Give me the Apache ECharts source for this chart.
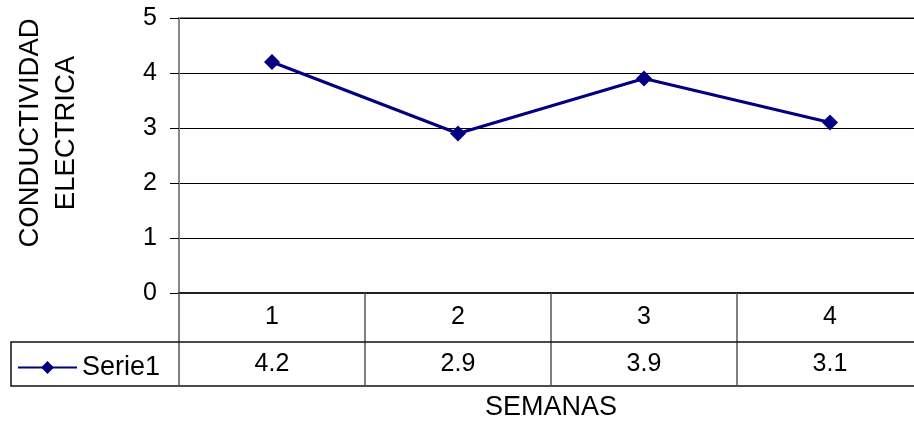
<!DOCTYPE html>
<html>
<head>
<meta charset="utf-8">
<script src="https://cdn.jsdelivr.net/npm/echarts@6/dist/echarts.min.js"></script>
<style>html,body{margin:0;padding:0;background:#fff;overflow:hidden}#c{width:930px;height:426px}</style>
</head>
<body>
<div id="c"></div>
<script>
const categories = ['1', '2', '3', '4'];
const serieName = 'Serie1';
const serieValues = [4.2, 2.9, 3.9, 3.1];
const yTicks = { min: 0, max: 5, interval: 1 };
const xTitle = 'SEMANAS';
const yTitle = 'CONDUCTIVIDAD\nELECTRICA';

const FONT = '"Liberation Sans", Arial, sans-serif';
const chart = echarts.init(document.getElementById('c'), null, { renderer: 'canvas' });
chart.setOption({
  backgroundColor: '#fff',
  animation: false,
  grid: { left: 179, top: 18, right: 7, bottom: 132, show: true, borderColor: '#888', borderWidth: 2, backgroundColor: 'transparent' },
  legend: {
    left: 12, top: 349, itemWidth: 59, itemHeight: 16, itemGap: 5,
    textStyle: { fontFamily: FONT, fontSize: 27, color: '#000' },
    data: [serieName]
  },
  xAxis: [
    {
      type: 'category', data: categories, position: 'bottom', boundaryGap: true,
      axisLine: { show: true, lineStyle: { color: '#222', width: 2 } },
      axisTick: { show: true, inside: false, length: 92, lineStyle: { color: '#555', width: 1.5 } },
      axisLabel: { margin: 12, fontFamily: FONT, fontSize: 25, color: '#000' },
      splitLine: { show: false },
      name: xTitle, nameLocation: 'middle', nameGap: 101,
      nameTextStyle: { fontFamily: FONT, fontSize: 27, color: '#000' }
    },
    {
      type: 'category', data: serieValues.map(v => v.toFixed(1)), position: 'bottom', offset: 48, boundaryGap: true,
      axisLine: { show: false }, axisTick: { show: false },
      axisLabel: { margin: 11, fontFamily: FONT, fontSize: 25, color: '#000' },
      splitLine: { show: false }
    }
  ],
  yAxis: {
    type: 'value', min: yTicks.min, max: yTicks.max, interval: yTicks.interval,
    axisLine: { show: true, lineStyle: { color: '#888', width: 2 } },
    axisTick: { show: true, inside: false, length: 9, lineStyle: { color: '#000', width: 1 } },
    axisLabel: { margin: 22, fontFamily: FONT, fontSize: 25, color: '#000' },
    splitLine: { show: true, lineStyle: { color: '#000', width: 1 } }
  },
  graphic: [
    { type: 'rect', shape: { x: 11, y: 342, width: 930, height: 44 }, style: { fill: 'none', stroke: '#111', lineWidth: 1.5 }, z: 10 },
    { type: 'text', x: 48, y: 133, rotation: Math.PI / 2,
      style: { text: yTitle, font: '27.5px ' + FONT, fill: '#000', align: 'center', verticalAlign: 'middle', lineHeight: 36 } }
  ],
  series: [{
    name: serieName, type: 'line', xAxisIndex: 0, data: serieValues,
    symbol: 'diamond', symbolSize: 16,
    lineStyle: { color: '#000080', width: 3 },
    itemStyle: { color: '#000080' }
  }]
});
</script>
</body>
</html>
